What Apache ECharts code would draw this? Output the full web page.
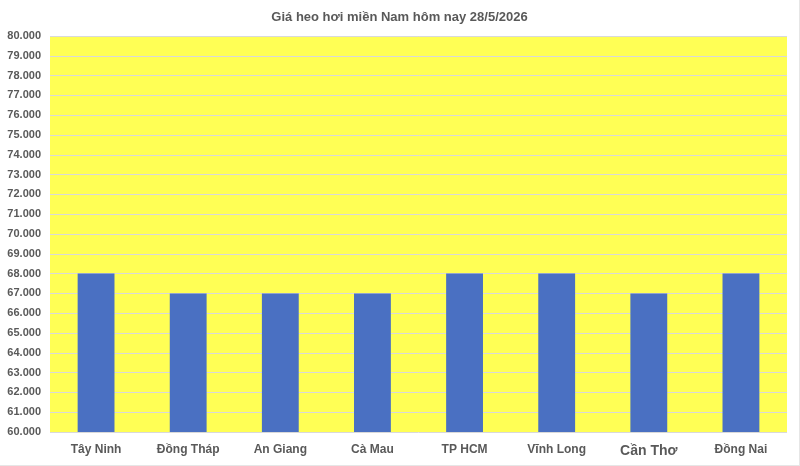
<!DOCTYPE html>
<html>
<head>
<meta charset="utf-8">
<script src="https://cdn.jsdelivr.net/npm/echarts@6/dist/echarts.min.js"></script>
<style>
  html, body { margin: 0; padding: 0; background: #fff; }
  #chart { width: 800px; height: 466px; box-sizing: border-box; border-right: 1px solid #e6e6e6; border-bottom: 1px solid #e6e6e6; }
</style>
</head>
<body>
<div id="chart"></div>
<script>
// dữ liệu
const provinces = ['Tây Ninh', 'Đồng Tháp', 'An Giang', 'Cà Mau', 'TP HCM', 'Vĩnh Long', 'Cần Thơ', 'Đồng Nai'];
const prices = [68000, 67000, 67000, 67000, 68000, 68000, 67000, 68000];
const yMin = 60000;
const yMax = 80000;
const yStep = 1000;

const chart = echarts.init(document.getElementById('chart'));
const textColor = '#595959';
const font = '"Liberation Sans", Arial, sans-serif';

chart.setOption({
  animation: false,
  title: {
    text: 'Giá heo hơi miền Nam hôm nay 28/5/2026',
    left: 'center',
    top: 6,
    textStyle: { color: textColor, fontSize: 13, fontWeight: 'bold', fontFamily: font }
  },
  grid: {
    left: 50, right: 12, top: 36, bottom: 33,
    show: true, backgroundColor: '#ffff55', borderWidth: 0
  },
  xAxis: {
    type: 'category',
    data: provinces,
    axisLine: { show: false },
    axisTick: { show: false },
    axisLabel: {
      interval: 0,
      color: textColor, fontSize: 12, fontWeight: 'bold', fontFamily: font, margin: 12,
      formatter: v => v === 'Cần Thơ' ? '{big|' + v + '}' : v,
      rich: { big: { fontSize: 14, fontWeight: 'bold', color: textColor, fontFamily: font } }
    }
  },
  yAxis: {
    type: 'value',
    min: yMin, max: yMax, interval: yStep,
    axisLine: { show: false },
    axisTick: { show: false },
    splitLine: { lineStyle: { color: '#d9d9d9', width: 1 } },
    axisLabel: {
      color: textColor, fontSize: 11, fontWeight: 'bold', fontFamily: font, margin: 9,
      formatter: v => v.toString().replace(/\B(?=(\d{3})+(?!\d))/g, '.')
    }
  },
  series: [{
    type: 'bar',
    data: prices,
    barWidth: '40%',
    itemStyle: { color: '#4a70c2' }
  }]
});
</script>
</body>
</html>
